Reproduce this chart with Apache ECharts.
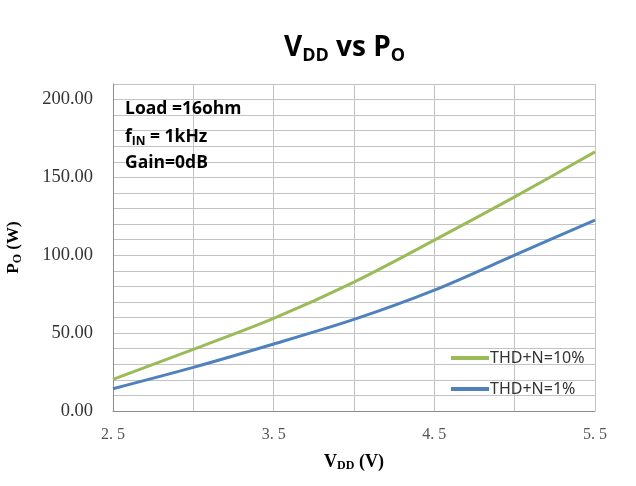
<!DOCTYPE html>
<html>
<head>
<meta charset="utf-8">
<script src="https://cdn.jsdelivr.net/npm/echarts@6/dist/echarts.min.js"></script>
<style>
html, body { margin: 0; padding: 0; background: #fff; }
#chart { width: 636px; height: 486px; }
</style>
</head>
<body>
<div id="chart"></div>
<script>
// supply voltage (V) and output power (W)
var vdd = [2.5, 3.0, 3.5, 4.0, 4.5, 5.0, 5.5];
var thd10 = [20.3, 39.6, 59.5, 82.8, 109.7, 137.5, 166.4];
var thd1 = [14.3, 28.0, 43.0, 58.8, 77.6, 100.1, 122.6];
var xLabels = ["2. 5", "3. 5", "4. 5", "5. 5"];
var notes = ["Load =16ohm", "fIN = 1kHz", "Gain=0dB"];

var gridColor = "#c3c3c3";
var chart = echarts.init(document.getElementById("chart"));

function pairs(ys) {
    return ys.map(function (y, i) { return [vdd[i], y]; });
}

chart.setOption({
    animation: false,
    title: {
        text: "{b|V}{s|DD}{b| vs P}{s|O}",
        left: 279,
        top: 24,
        textStyle: {
            rich: {
                b: { fontFamily: "Open Sans", fontWeight: "bold", fontSize: 28, color: "#000", lineHeight: 38 },
                s: { fontFamily: "Open Sans", fontWeight: "bold", fontSize: 18, color: "#000", lineHeight: 38, padding: [16, 0, 0, 0] }
            }
        }
    },
    legend: {
        orient: "vertical",
        left: 446,
        top: 345,
        itemWidth: 38,
        itemHeight: 4,
        itemGap: 15,
        icon: "rect",
        textStyle: { fontFamily: "Noto Sans", fontSize: 16, color: "#333", padding: [0, 0, 0, -4] },
        data: ["THD+N=10%", "THD+N=1%"]
    },
    grid: { left: 113, right: 41, top: 84, bottom: 75, outerBoundsMode: "none" },
    xAxis: {
        type: "value",
        min: 2.5,
        max: 5.5,
        interval: 0.5,
        name: "{b|V}{s|DD}{b| (V)}",
        nameLocation: "middle",
        nameGap: 40,
        nameTextStyle: {
            rich: {
                b: { fontFamily: "Liberation Serif", fontWeight: "bold", fontSize: 18, color: "#000", lineHeight: 22 },
                s: { fontFamily: "Liberation Serif", fontWeight: "bold", fontSize: 12, color: "#000", lineHeight: 22, padding: [8, 0, 0, 0] }
            }
        },
        axisLine: { lineStyle: { color: "#8c8c8c", width: 1 } },
        axisTick: { show: false },
        axisLabel: {
            margin: 16,
            fontFamily: "Liberation Serif",
            fontSize: 16,
            color: "#555",
            formatter: function (v) {
                var i = [2.5, 3.5, 4.5, 5.5].indexOf(Math.round(v * 10) / 10);
                return i >= 0 ? xLabels[i] : "";
            }
        },
        splitLine: { show: true, lineStyle: { color: gridColor, width: 1 } }
    },
    yAxis: {
        type: "value",
        min: 0,
        max: 210,
        interval: 10,
        name: "{b|P}{s|O}{b| (W)}",
        nameLocation: "middle",
        nameRotate: 90,
        nameGap: 88,
        nameTextStyle: {
            rich: {
                b: { fontFamily: "Liberation Serif", fontWeight: "bold", fontSize: 17, color: "#000", lineHeight: 22 },
                s: { fontFamily: "Liberation Serif", fontWeight: "bold", fontSize: 12, color: "#000", lineHeight: 22, padding: [8, 0, 0, 0] }
            }
        },
        axisLine: { show: true, lineStyle: { color: "#8c8c8c", width: 1 } },
        axisTick: { show: false },
        axisLabel: {
            margin: 20,
            fontFamily: "Liberation Serif",
            fontSize: 18.5,
            color: "#333",
            formatter: function (v) {
                return v % 50 === 0 ? v.toFixed(2) : "";
            }
        },
        splitLine: { show: true, lineStyle: { color: gridColor, width: 1 } }
    },
    graphic: notes.map(function (t, i) {
        var txt = i === 1 ? "{n|f}{s|IN}{n| = 1kHz}" : "{n|" + t + "}";
        return {
            type: "text",
            left: 125,
            top: 100 + i * 27,
            z: 10,
            style: {
                text: txt,
                rich: {
                    n: { fontFamily: "Open Sans", fontWeight: "bold", fontSize: 17.5, fill: "#000", lineHeight: 24 },
                    s: { fontFamily: "Open Sans", fontWeight: "bold", fontSize: 12, fill: "#000", lineHeight: 24, padding: [9, 0, 0, 0] }
                }
            }
        };
    }),
    series: [
        {
            name: "THD+N=10%",
            type: "line",
            data: pairs(thd10),
            smooth: 0.3,
            showSymbol: false,
            color: "#9bbb59",
            lineStyle: { width: 3 }
        },
        {
            name: "THD+N=1%",
            type: "line",
            data: pairs(thd1),
            smooth: 0.3,
            showSymbol: false,
            color: "#4f81bd",
            lineStyle: { width: 3 }
        }
    ]
});
</script>
</body>
</html>
